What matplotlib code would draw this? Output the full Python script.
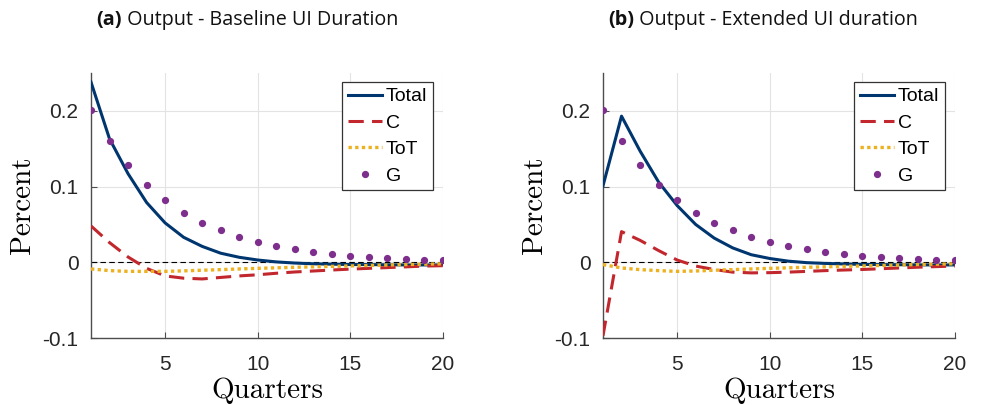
import numpy as np
import matplotlib
matplotlib.use("Agg")
import matplotlib.pyplot as plt

# Quarters on the horizontal axis
quarters = np.arange(1, 21)

# Panel (a): baseline UI duration
total_a = [0.238, 0.163, 0.117, 0.079, 0.052, 0.033, 0.021, 0.012, 0.0066, 0.003,
           0.0005, -0.001, -0.002, -0.0025, -0.003, -0.003, -0.0033, -0.0035, -0.0035, -0.0035]
c_a = [0.048, 0.026, 0.007, -0.008, -0.018, -0.021, -0.022, -0.020, -0.018, -0.0165,
       -0.0145, -0.0128, -0.0115, -0.0102, -0.009, -0.008, -0.007, -0.006, -0.005, -0.0045]
tot_a = [-0.0088, -0.011, -0.012, -0.012, -0.012, -0.0113, -0.0105, -0.0097, -0.0088, -0.008,
         -0.0073, -0.0066, -0.006, -0.0054, -0.0048, -0.0042, -0.0036, -0.003, -0.0025, -0.002]

# Panel (b): extended UI duration
total_b = [0.101, 0.193, 0.147, 0.106, 0.075, 0.050, 0.032, 0.019, 0.010, 0.005,
           0.0015, -0.0005, -0.0015, -0.0022, -0.0028, -0.003, -0.0032, -0.0034, -0.0035, -0.0035]
c_b = [-0.097, 0.0405, 0.029, 0.0155, 0.003, -0.005, -0.0095, -0.013, -0.014, -0.0137,
       -0.013, -0.012, -0.011, -0.0102, -0.0095, -0.0085, -0.0075, -0.0065, -0.0057, -0.005]
tot_b = [-0.003, -0.0075, -0.0097, -0.011, -0.012, -0.0115, -0.0105, -0.0097, -0.0088, -0.008,
         -0.0073, -0.0066, -0.006, -0.0054, -0.0048, -0.0042, -0.0036, -0.003, -0.0025, -0.002]

# Government spending shock (same in both panels)
g_path = [0.2005, 0.160, 0.128, 0.1025, 0.082, 0.0655, 0.052, 0.042, 0.0336, 0.027,
          0.0217, 0.0172, 0.0138, 0.011, 0.0089, 0.0071, 0.0058, 0.0045, 0.0036, 0.003]

panels = [
    ("(a)", " Output - Baseline UI Duration", total_a, c_a, tot_a),
    ("(b)", " Output - Extended UI duration", total_b, c_b, tot_b),
]

col_total = "#00366f"
col_c = "#c1272d"
col_tot = "#edb120"
col_g = "#7e2f8e"

fig = plt.figure(figsize=(9.88, 4.05), dpi=100)
lefts = [91 / 988, 603 / 988]

for left, (tag, title, total, c, tot) in zip(lefts, panels):
    ax = fig.add_axes([left, 67 / 405, 352 / 988, 265 / 405])
    ax.axhline(0, color="black", lw=0.8, ls=(0, (5, 3)), zorder=1)
    ax.plot(quarters, total, color=col_total, lw=2.2, label="Total", zorder=3)
    ax.plot(quarters, c, color=col_c, lw=2.2, ls=(0, (5, 2.7)), label="C", zorder=3)
    ax.plot(quarters, tot, color=col_tot, lw=2.4, ls=(0, (1, 1)), label="ToT", zorder=3)
    ax.plot(quarters, g_path, ls="none", marker="o", ms=4.2, color=col_g, label="G", zorder=4)

    ax.set_xlim(1, 20)
    ax.set_ylim(-0.1, 0.25)
    ax.set_xticks([5, 10, 15, 20])
    ax.set_yticks([-0.1, 0, 0.1, 0.2])
    ax.set_yticklabels(["-0.1", "0", "0.1", "0.2"])
    ax.grid(True, color="#e3e3e3", lw=0.8)
    ax.set_axisbelow(True)
    for side in ["top", "right"]:
        ax.spines[side].set_visible(False)
    for side in ["left", "bottom"]:
        ax.spines[side].set_color("#4d4d4d")
        ax.spines[side].set_linewidth(1.0)
    ax.tick_params(direction="in", length=4, color="#4d4d4d", labelsize=15,
                   labelcolor="#262626")
    ax.tick_params(axis="x", pad=12)
    ax.tick_params(axis="y", pad=9)
    for lab in ax.get_xticklabels() + ax.get_yticklabels():
        lab.set_fontfamily("Liberation Sans")

    ax.set_xlabel("Quarters", fontname="cmr10", fontsize=21, labelpad=3)
    ax.set_ylabel("Percent", fontname="cmr10", fontsize=21, labelpad=5)

    leg = ax.legend(loc="upper right", bbox_to_anchor=(0.972, 0.966),
                    prop={"family": "Liberation Sans", "size": 14},
                    fancybox=False, framealpha=1, edgecolor="#333333",
                    handlelength=1.75, handletextpad=0.2, labelspacing=0.45,
                    borderpad=0.3, borderaxespad=0)
    leg.get_frame().set_linewidth(0.9)

    # Panel title: bold tag followed by regular text
    t = fig.text(left + 5 / 988, 1 - 20 / 405, tag, fontsize=14.2, fontweight="bold",
                 family="Open Sans", va="center", ha="left", color="#111111")
    fig.canvas.draw()
    bb = t.get_window_extent()
    fig.text(bb.x1 / fig.bbox.width, 1 - 20 / 405, title, fontsize=14.2,
             family="Open Sans", va="center", ha="left", color="#111111")

fig.savefig("out.png", dpi=100)
